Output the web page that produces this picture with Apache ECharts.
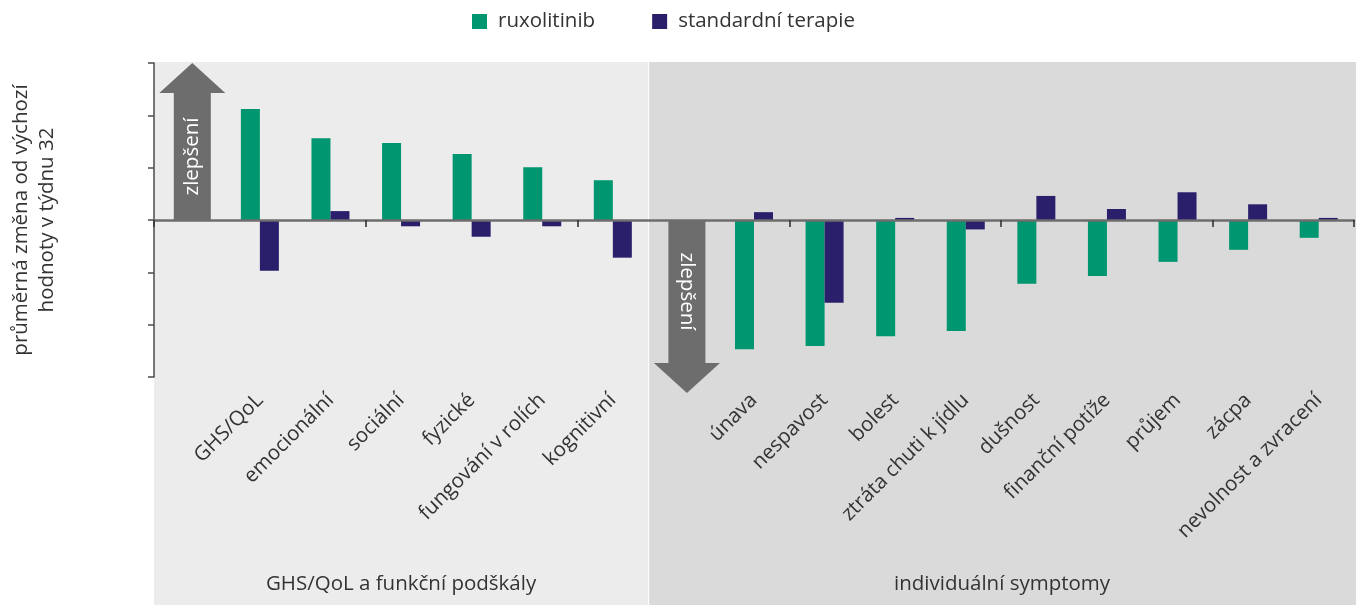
<!DOCTYPE html>
<html>
<head>
<meta charset="utf-8">
<script src="https://cdn.jsdelivr.net/npm/echarts@6/dist/echarts.min.js"></script>
<style>
  html, body { margin: 0; padding: 0; background: #ffffff; }
  #chart { width: 1356px; height: 605px; }
</style>
</head>
<body>
<div id="chart"></div>
<script>
// Subscales of quality of life (GHS/QoL and functional scales)
const funkcniKategorie = ['GHS/QoL', 'emocionální', 'sociální', 'fyzické', 'fungování v rolích', 'kognitivní'];
const funkcniRuxolitinib = [21.2, 15.6, 14.7, 12.6, 10.1, 7.6];
const funkcniStandard = [-9.7, 1.7, -1.2, -3.2, -1.2, -7.2];

// Individual symptoms
const symptomyKategorie = ['únava', 'nespavost', 'bolest', 'ztráta chuti k jídlu', 'dušnost',
  'finanční potíže', 'průjem', 'zácpa', 'nevolnost a zvracení'];
const symptomyRuxolitinib = [-24.7, -24.1, -22.2, -21.2, -12.2, -10.7, -8.0, -5.7, -3.4];
const symptomyStandard = [1.5, -15.8, 0.4, -1.8, 4.6, 2.1, 5.3, 3.0, 0.4];

const seriesNames = ['ruxolitinib', 'standardní terapie'];
const groupNames = ['GHS/QoL a funkční podškály', 'individuální symptomy'];
const arrowText = 'zlepšení';
const yAxisName = 'průměrná změna od výchozí\nhodnoty v týdnu 32';
const yMin = -30, yMax = 30, yStep = 10;

// Each group starts with an empty slot that holds the "improvement" arrow
const categories = [''].concat(funkcniKategorie, [' '], symptomyKategorie);
const ruxData = [null].concat(funkcniRuxolitinib, [null], symptomyRuxolitinib);
const stdData = [null].concat(funkcniStandard, [null], symptomyStandard);

const FONT = '"Open Sans", "Noto Sans", sans-serif';
const FS = 20.5;
const TEXT = '#333333';
const GREEN = '#009670';
const PURPLE = '#2a1f6b';
const ARROW = '#6d6d6d';

const chart = echarts.init(document.getElementById('chart'), null, { renderer: 'canvas' });

chart.setOption({
  animation: false,
  textStyle: { fontFamily: FONT },
  legend: {
    data: seriesNames,
    top: 6,
    left: 467,
    itemWidth: 15,
    itemHeight: 15,
    itemGap: 57,
    icon: 'rect',
    textStyle: { fontFamily: FONT, fontSize: FS, color: TEXT, padding: [0, 0, 0, 6] }
  },
  grid: { left: 153, right: 2, top: 63, bottom: 228, containLabel: false },
  xAxis: [
    {
      // zero line with boundary ticks
      type: 'category',
      data: categories,
      position: 'bottom',
      axisLine: { onZero: true, lineStyle: { color: '#6d6d6d', width: 2.5 } },
      axisTick: { show: true, length: 7, lineStyle: { color: '#333', width: 1.6 } },
      axisLabel: { show: false },
      splitLine: { show: false },
      z: 3
    },
    {
      // rotated category labels below the plot
      type: 'category',
      data: categories,
      position: 'bottom',
      axisLine: { show: false, onZero: false },
      axisTick: { show: false },
      axisLabel: {
        interval: 0,
        rotate: 45,
        margin: 20,
        fontFamily: FONT,
        fontSize: FS,
        color: TEXT
      },
      splitLine: { show: false }
    }
  ],
  yAxis: {
    type: 'value',
    min: yMin,
    max: yMax,
    interval: yStep,
    name: yAxisName,
    nameLocation: 'middle',
    nameRotate: 90,
    nameGap: 94,
    nameTextStyle: { fontFamily: FONT, fontSize: FS, color: TEXT, lineHeight: 26 },
    axisLine: { show: true, lineStyle: { color: '#555', width: 1.6 } },
    axisTick: { show: true, length: 6, lineStyle: { color: '#555', width: 1.6 } },
    axisLabel: { show: false },
    splitLine: { show: false }
  },
  series: [
    {
      name: seriesNames[0],
      type: 'bar',
      data: ruxData,
      barWidth: 19,
      barGap: '0%',
      itemStyle: { color: GREEN },
      z: 2
    },
    {
      name: seriesNames[1],
      type: 'bar',
      data: stdData,
      barWidth: 19,
      barGap: '0%',
      itemStyle: { color: PURPLE },
      z: 2
    }
  ]
});

// Section backgrounds, arrows and group captions, placed from the axis scales
function decorate() {
  const c0 = chart.convertToPixel({ xAxisIndex: 0 }, 0);
  const band = chart.convertToPixel({ xAxisIndex: 0 }, 1) - c0;
  const left = c0 - band / 2;
  const split = left + 7 * band;
  const c7 = chart.convertToPixel({ xAxisIndex: 0 }, 7);
  const y0 = chart.convertToPixel({ yAxisIndex: 0 }, 0);
  const yTop = chart.convertToPixel({ yAxisIndex: 0 }, yMax);
  const yBot = chart.convertToPixel({ yAxisIndex: 0 }, yMin);
  const W = chart.getWidth(), H = chart.getHeight();

  const shaftHalf = 18.5, headHalf = 33, headH = 30;

  const ux = c0 + 3;
  const upArrow = [
    [ux - shaftHalf, y0], [ux - shaftHalf, yTop + headH], [ux - headHalf, yTop + headH],
    [ux, yTop], [ux + headHalf, yTop + headH], [ux + shaftHalf, yTop + headH], [ux + shaftHalf, y0]
  ];
  const dx = c7 + 3.5;
  const tip = yBot + 16;
  const downArrow = [
    [dx - shaftHalf, y0], [dx - shaftHalf, tip - headH], [dx - headHalf, tip - headH],
    [dx, tip], [dx + headHalf, tip - headH], [dx + shaftHalf, tip - headH], [dx + shaftHalf, y0]
  ];

  const textStyle = (text, fill) => ({
    text: text, fill: fill, font: FS + 'px ' + FONT,
    align: 'center', verticalAlign: 'middle', textAlign: 'center', textVerticalAlign: 'middle'
  });

  chart.setOption({
    graphic: [
      { type: 'rect', z: -10, silent: true,
        shape: { x: left, y: yTop - 1, width: split - left, height: H - yTop + 1 },
        style: { fill: '#ececec' } },
      { type: 'rect', z: -10, silent: true,
        shape: { x: split + 1, y: yTop - 1, width: W - split - 1, height: H - yTop + 1 },
        style: { fill: '#dadada' } },
      { type: 'polygon', z: 1, silent: true, shape: { points: upArrow }, style: { fill: ARROW } },
      { type: 'polygon', z: 1, silent: true, shape: { points: downArrow }, style: { fill: ARROW } },
      { type: 'text', z: 4, silent: true, x: ux, y: (y0 + yTop + headH) / 2, rotation: Math.PI / 2,
        style: textStyle(arrowText, '#ffffff') },
      { type: 'text', z: 4, silent: true, x: dx, y: (y0 + tip - headH) / 2, rotation: -Math.PI / 2,
        style: textStyle(arrowText, '#ffffff') },
      { type: 'text', z: 4, silent: true, x: (left + split) / 2, y: 584,
        style: textStyle(groupNames[0], TEXT) },
      { type: 'text', z: 4, silent: true, x: (split + W) / 2, y: 584,
        style: textStyle(groupNames[1], TEXT) }
    ]
  });
}
decorate();
</script>
</body>
</html>
